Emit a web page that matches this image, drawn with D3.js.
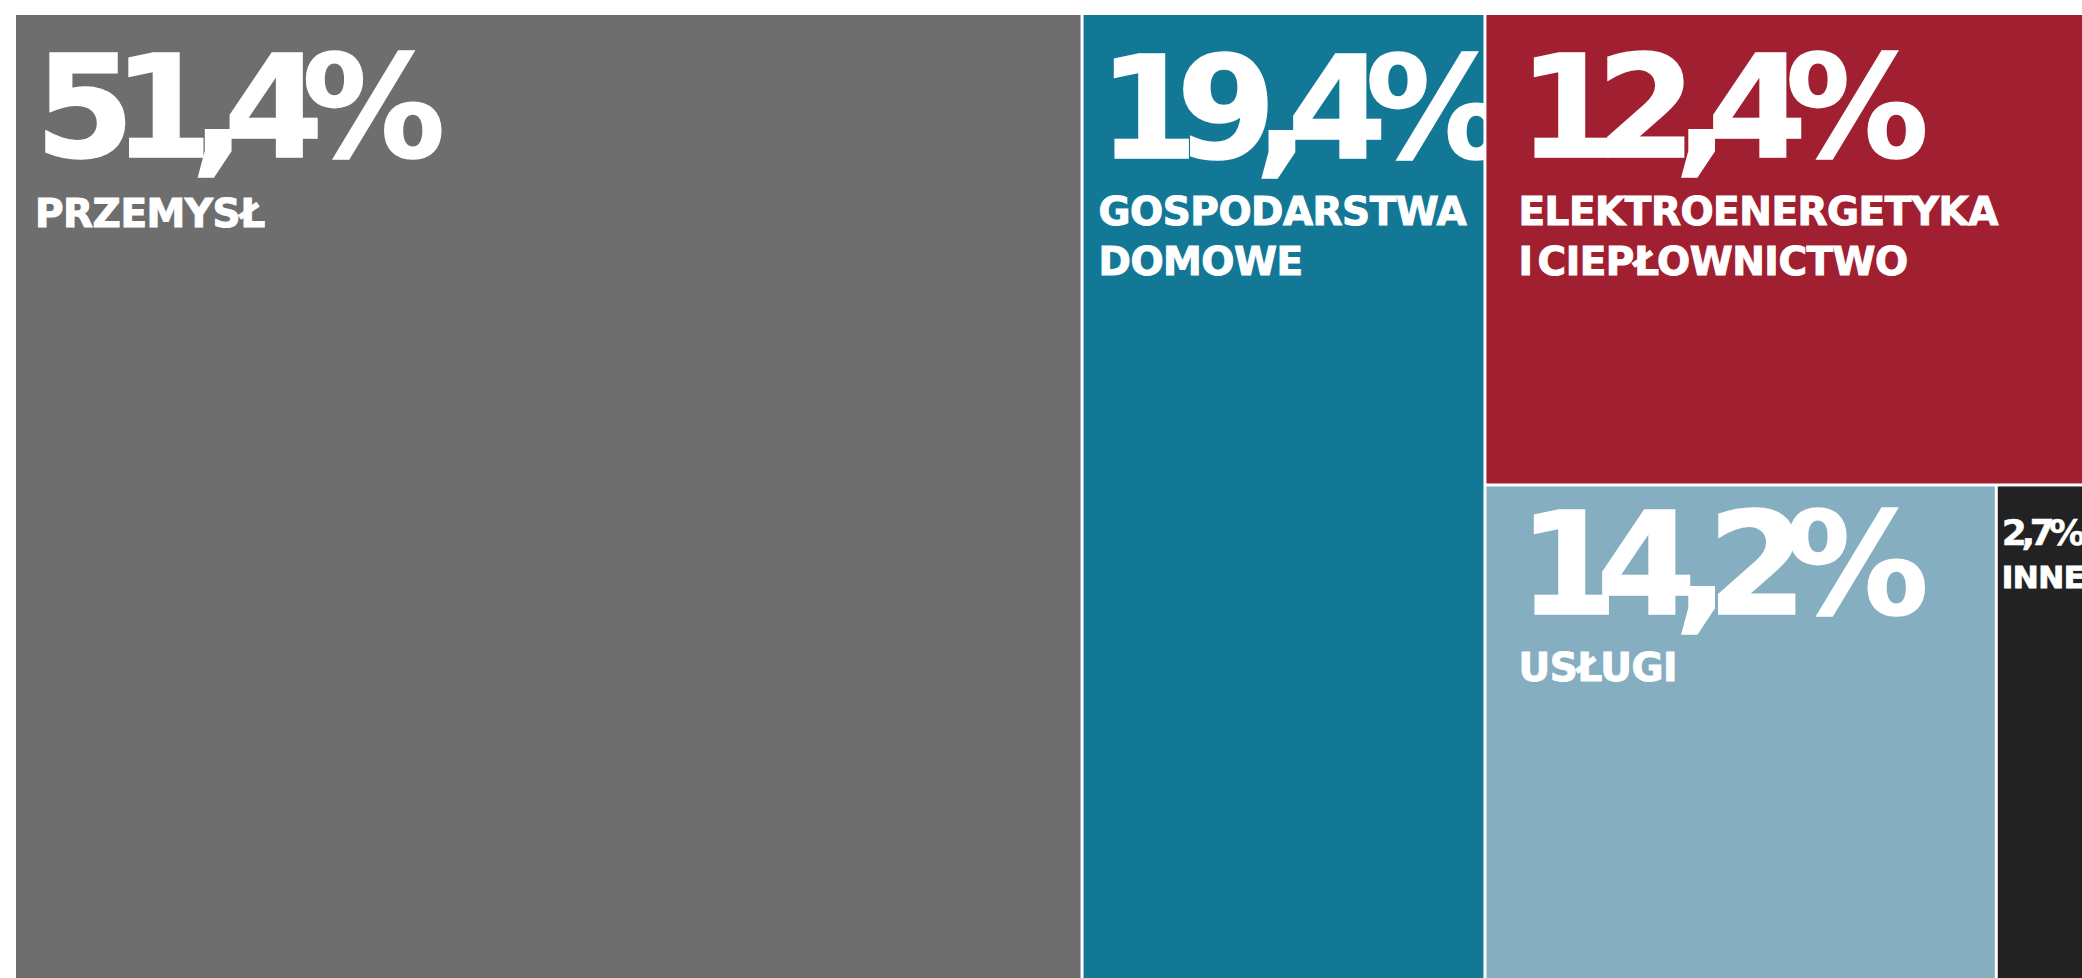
<!DOCTYPE html>
<html>
<head>
<meta charset="utf-8">
<script src="https://cdn.jsdelivr.net/npm/d3@7"></script>
<style>
  html, body { margin: 0; padding: 0; background: #fff; overflow: hidden; }
  svg { display: block; }
  text { font-family: "DejaVu Sans", Verdana, sans-serif; font-weight: bold; fill: #fff; stroke: #fff; }
</style>
</head>
<body>
<svg></svg>
<script>
// data: energy use share by sector (%)
const categories = ['PRZEMYSŁ', 'GOSPODARSTWA DOMOWE', 'ELEKTROENERGETYKA I CIEPŁOWNICTWO', 'USŁUGI', 'INNE'];
const labelLines = [['PRZEMYSŁ'], ['GOSPODARSTWA', 'DOMOWE'], ['ELEKTROENERGETYKA', 'I CIEPŁOWNICTWO'], ['USŁUGI'], ['INNE']];
const shares = [51.4, 19.4, 12.4, 14.2, 2.7];

const width = 2082, height = 978;
const colors = ['#6e6e6e', '#137896', '#a01f30', '#85aec0', '#222222'];

// text placement inside each tile
const textLayout = [
  { dx: 19, big: 143, small: 39, yBig: 142, yLab: 212 },
  { dx: 15, big: 143, small: 39, yBig: 143, yLab: 210 },
  { dx: 32, big: 143, small: 39, yBig: 142, yLab: 210 },
  { dx: 32, big: 143, small: 39, yBig: 128, yLab: 195 },
  { dx: 4,  big: 36,  small: 31, yBig: 59,  yLab: 102 }
];

const svg = d3.select('svg')
  .attr('width', width)
  .attr('height', height);

// leaf nodes
const leaves = categories.map((c, i) => ({ name: c, index: i, value: shares[i] }));

// nesting: two big columns, then a column with one tile on top and two tiles below
const tree = {
  name: 'root',
  children: [
    leaves[0],
    leaves[1],
    { name: 'g1', children: [leaves[2], { name: 'g2', children: [leaves[3], leaves[4]] }] }
  ]
};

const root = d3.hierarchy(tree).sum(d => d.children ? 0 : d.value);

// the map runs past the right and bottom edges of the page
d3.treemap()
  .tile(d3.treemapSliceDice)
  .paddingInner(3)
  .size([2076, 1111])(root);

const chart = svg.append('g').attr('transform', 'translate(16,15)');

const cell = chart.selectAll('g.cell')
  .data(root.leaves())
  .enter()
  .append('g')
  .attr('class', 'cell')
  .attr('transform', d => `translate(${d.x0},${d.y0})`);

cell.append('rect')
  .attr('width', d => d.x1 - d.x0)
  .attr('height', d => d.y1 - d.y0)
  .attr('fill', d => colors[d.data.index]);

// big percentage
cell.append('text')
  .attr('x', d => textLayout[d.data.index].dx)
  .attr('y', d => textLayout[d.data.index].yBig)
  .style('font-size', d => textLayout[d.data.index].big + 'px')
  .style('letter-spacing', '-0.15em')
  .style('stroke-width', d => d.data.index === 4 ? 0.5 : 1.5)
  .text(d => d.data.value.toFixed(1).replace('.', ',') + '%');

// category name
cell.append('text')
  .attr('x', d => textLayout[d.data.index].dx)
  .attr('y', d => textLayout[d.data.index].yLab)
  .style('font-size', d => textLayout[d.data.index].small + 'px')
  .style('letter-spacing', '-0.5px')
  .style('word-spacing', '-8px')
  .style('stroke-width', 1)
  .selectAll('tspan')
  .data(d => labelLines[d.data.index].map(l => ({ l, d })))
  .enter()
  .append('tspan')
  .attr('x', o => textLayout[o.d.data.index].dx)
  .attr('dy', (o, i) => i === 0 ? 0 : 50)
  .text(o => o.l);
</script>
</body>
</html>
